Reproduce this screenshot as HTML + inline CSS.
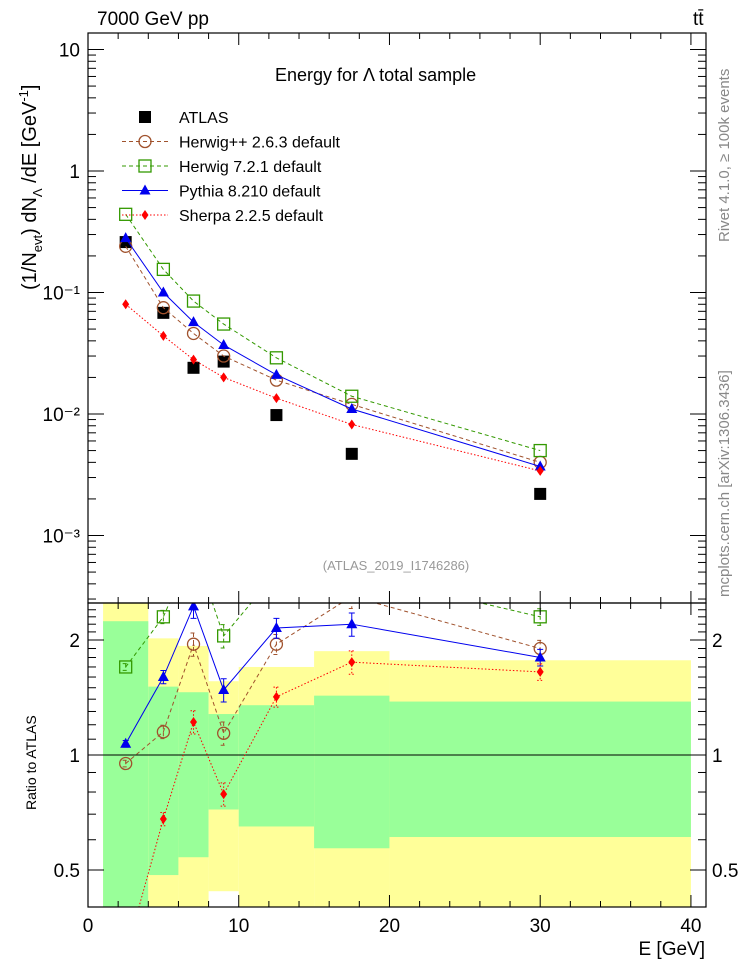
<!DOCTYPE html>
<html><head><meta charset="utf-8"><style>
body{margin:0;background:#fff;}
svg{display:block;font-family:"Liberation Sans",sans-serif;}
</style></head><body>
<svg id="c" width="746" height="972" viewBox="0 0 746 972" xmlns="http://www.w3.org/2000/svg">
<text x="97" y="25" font-size="19">7000 GeV pp</text>
<text x="693" y="25" font-size="19">tt̄</text>
<text x="275" y="81" font-size="18">Energy for  Λ total sample</text>
<text x="396" y="570" font-size="13" fill="#999" text-anchor="middle">(ATLAS_2019_I1746286)</text>
<text transform="translate(729,242) rotate(-90)" font-size="15" fill="#888">Rivet 4.1.0, ≥ 100k events</text>
<text transform="translate(729,597) rotate(-90)" font-size="15" fill="#888">mcplots.cern.ch [arXiv:1306.3436]</text>
<text transform="translate(36,290) rotate(-90)" font-size="20">(1/N<tspan font-size="13" dy="6">evt</tspan><tspan dy="-6">) dN</tspan><tspan font-size="13" dy="6">Λ</tspan><tspan dy="-6"> /dE [GeV</tspan><tspan font-size="13" dy="-8">-1</tspan><tspan dy="8">]</tspan></text>
<text transform="translate(36,810) rotate(-90)" font-size="14">Ratio to ATLAS</text>
<text x="705" y="955" font-size="19" text-anchor="end">E [GeV]</text>
<g id="g"></g>
</svg>
<script>
const xCenters=[2.5,5,7,9,12.5,17.5,30];
const binEdges=[1,4,6,8,10,15,20,40];
const atlas=[0.26,0.068,0.024,0.027,0.0098,0.0047,0.0022];
const herwigpp=[0.24,0.075,0.046,0.030,0.019,0.012,0.0040];
const herwig7=[0.44,0.155,0.085,0.055,0.029,0.014,0.0050];
const pythia=[0.28,0.10,0.057,0.037,0.021,0.011,0.0037];
const sherpa=[0.080,0.044,0.028,0.020,0.0135,0.0082,0.0034];
const ratioHerwigpp=[0.95,1.15,1.95,1.14,1.95,2.6,1.9];
const ratioHerwig7=[1.7,2.3,3.5,2.05,3.0,3.0,2.3];
const ratioPythia=[1.07,1.6,2.45,1.48,2.15,2.2,1.8];
const ratioSherpa=[0.3,0.68,1.22,0.79,1.42,1.75,1.65];
const ratioErr=[0.02,0.04,0.07,0.07,0.06,0.07,0.05];
const greenHi=[2.24,1.51,1.46,1.28,1.35,1.43,1.38];
const greenLo=[0.3,0.485,0.54,0.72,0.65,0.57,0.61];
const yellowHi=[2.6,2.02,1.93,1.56,1.70,1.87,1.77];
const yellowLo=[0.3,0.3,0.3,0.44,0.3,0.3,0.3];
const xTicks=[0,10,20,30,40];
const mainTickLabels=["10","1","10\u207B\u00B9","10\u207B\u00B2","10\u207B\u00B3"];
const ratioTicks=[2,1,0.5];

const L=88,R=706,T=33,MB=603,RB=907;
const X=v=>L+v*(R-L)/41;
const YM=v=>171-121.5*Math.log10(v);
const YR=v=>755-382*Math.log10(v);
const NS="http://www.w3.org/2000/svg";
const g=document.getElementById('g');
function el(t,a,p){const e=document.createElementNS(NS,t);for(const k in a)e.setAttribute(k,a[k]);(p||g).appendChild(e);return e;}

const defs=el('defs',{});
const c1=el('clipPath',{id:'cm'},defs);el('rect',{x:L,y:T,width:R-L,height:MB-T},c1);
const c2=el('clipPath',{id:'cr'},defs);el('rect',{x:L,y:MB,width:R-L,height:RB-MB},c2);
const gm=el('g',{'clip-path':'url(#cm)'});


const gr=el('g',{'clip-path':'url(#cr)'});



for(let i=0;i<xCenters.length;i++){
  const x0=X(binEdges[i]),w=X(binEdges[i+1])-x0;
  const y=el('rect',{x:x0,y:YR(yellowHi[i]),width:w,height:YR(yellowLo[i])-YR(yellowHi[i]),fill:'#ffff99'},gr);
  
  
  const gg=el('rect',{x:x0,y:YR(greenHi[i]),width:w,height:YR(greenLo[i])-YR(greenHi[i]),fill:'#99ff99'},gr);
  
  
}
el('line',{x1:L,x2:R,y1:YR(1),y2:YR(1),stroke:'#000','stroke-width':1},gr);

function marker(p,type,x,y,col){
  let m;
  if(type==='sq')m=el('rect',{x:x-6,y:y-6,width:12,height:12,fill:'#000'},p);
  else if(type==='circ')m=el('circle',{cx:x,cy:y,r:6,fill:'none',stroke:col,'stroke-width':1.3},p);
  else if(type==='osq')m=el('rect',{x:x-6,y:y-6,width:12,height:12,fill:'none',stroke:col,'stroke-width':1.3},p);
  else if(type==='tri')m=el('polygon',{points:`${x},${y-6} ${x-5.5},${y+4} ${x+5.5},${y+4}`,fill:col},p);
  else m=el('polygon',{points:`${x},${y-5} ${x-3.5},${y} ${x},${y+5} ${x+3.5},${y}`,fill:col},p);
  return m;
}
function series(p,vals,Y,col,dash,type,name,err){
  const pts=vals.map((v,i)=>X(xCenters[i])+','+Y(v)).join(' ');
  if(col){const l=el('polyline',{points:pts,fill:'none',stroke:col,'stroke-width':1,'stroke-dasharray':dash},p);
  
  }
  vals.forEach((v,i)=>{
    const x=X(xCenters[i]);
    if(err){const e=el('path',{d:`M${x},${Y(v*(1+err[i]))}V${Y(v*(1-err[i]))}M${x-3},${Y(v*(1+err[i]))}h6M${x-3},${Y(v*(1-err[i]))}h6`,stroke:col,fill:'none','stroke-width':1,'stroke-dasharray':dash},p);
      
      }
    const m=marker(p,type,x,Y(v),col);
    
    });
}
series(gm,atlas,YM,null,'', 'sq','atlas');
series(gm,herwigpp,YM,'#a0522d','4,3','circ','herwigpp');
series(gm,herwig7,YM,'#339900','4,3','osq','herwig7');
series(gm,pythia,YM,'#0000ee','','tri','pythia');
series(gm,sherpa,YM,'#ff0000','1.5,2','dia','sherpa');
series(gr,ratioHerwigpp,YR,'#a0522d','4,3','circ','ratio-herwigpp',ratioErr);
series(gr,ratioHerwig7,YR,'#339900','4,3','osq','ratio-herwig7',ratioErr);
series(gr,ratioPythia,YR,'#0000ee','','tri','ratio-pythia',ratioErr);
series(gr,ratioSherpa,YR,'#ff0000','1.5,2','dia','ratio-sherpa',ratioErr);

el('rect',{x:L,y:T,width:R-L,height:MB-T,fill:'none',stroke:'#000','stroke-width':1.2});
el('rect',{x:L,y:MB,width:R-L,height:RB-MB,fill:'none',stroke:'#000','stroke-width':1.2});
for(let v=0;v<=41;v+=2){
  const x=X(v),len=v%10===0?12:6;
  [[T,1],[MB,-1],[MB,1],[RB,-1]].forEach(([y,d])=>el('line',{x1:x,x2:x,y1:y,y2:y+d*len,stroke:'#000'}));
}
xTicks.forEach(v=>{const t=el('text',{x:X(v),y:932,'font-size':19,'text-anchor':'middle'});t.textContent=v;

});
for(let e=-4;e<=1;e++)for(let k=1;k<10;k++){
  const y=YM(k*Math.pow(10,e));if(y<T||y>MB)continue;
  const len=k===1?16:8;
  el('line',{x1:L,x2:L+len,y1:y,y2:y,stroke:'#000'});el('line',{x1:R,x2:R-len,y1:y,y2:y,stroke:'#000'});
}
mainTickLabels.forEach((s,i)=>{const t=el('text',{x:80,y:YM(Math.pow(10,1-i))+7,'font-size':19,'text-anchor':'end'});t.textContent=s;

});
for(let v=0.4;v<=2.5;v+=0.1){
  const y=YR(v);const maj=[0.5,1,2].some(q=>Math.abs(q-v)<1e-6);const len=maj?16:8;
  el('line',{x1:L,x2:L+len,y1:y,y2:y,stroke:'#000'});el('line',{x1:R,x2:R-len,y1:y,y2:y,stroke:'#000'});
}
ratioTicks.forEach(v=>{
  const t=el('text',{x:80,y:YR(v)+7,'font-size':19,'text-anchor':'end'});t.textContent=v;
  
  
  const t2=el('text',{x:712,y:YR(v)+7,'font-size':19});t2.textContent=v;
  
  
});
const leg=[['ATLAS',null,'','sq'],['Herwig++ 2.6.3 default','#a0522d','4,3','circ'],['Herwig 7.2.1 default','#339900','4,3','osq'],['Pythia 8.210 default','#0000ee','','tri'],['Sherpa 2.2.5 default','#ff0000','1.5,2','dia']];
leg.forEach((l,i)=>{
  const y=117+i*24.5;
  const gl=el('g',{});
  
  
  if(l[1])el('line',{x1:122,x2:168,y1:y,y2:y,stroke:l[1],'stroke-dasharray':l[2]},gl);
  marker(gl,l[3],145,y,l[1]);
  const t=el('text',{x:179,y:y+6,'font-size':16},gl);t.textContent=l[0];
});
</script>
</body></html>
